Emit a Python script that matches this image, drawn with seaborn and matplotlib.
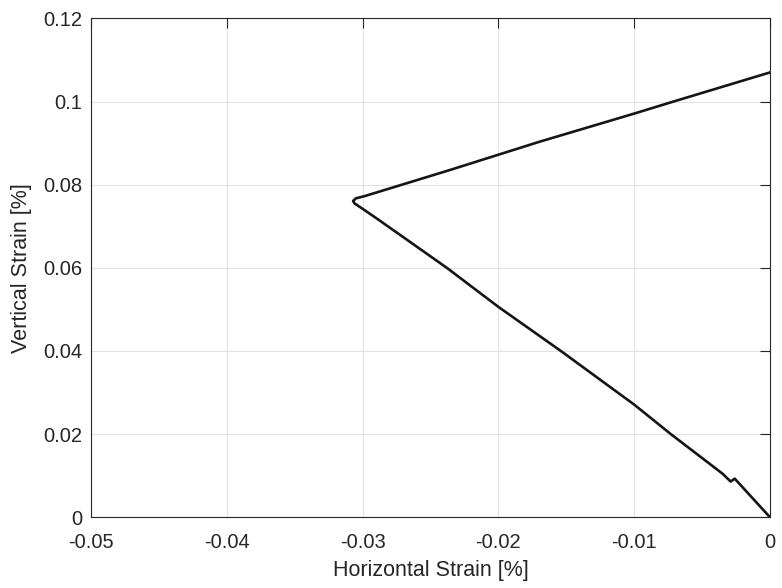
import numpy as np
import pandas as pd
import matplotlib
matplotlib.use("Agg")
import matplotlib.pyplot as plt
import seaborn as sns

# strain path (loading branch, then unloading branch)
horizontal_strain = [0.0, -0.0026, -0.0029, -0.0035, -0.0073, -0.0100,
                     -0.0154, -0.0200, -0.0238, -0.0288, -0.0300, -0.0306,
                     -0.0307, -0.0305, -0.0298, -0.0236, -0.0170, -0.0100, -0.0071, 0.0]
vertical_strain = [0.0, 0.0093, 0.0086, 0.0105, 0.0200, 0.0271,
                   0.0400, 0.0506, 0.0600, 0.0715, 0.0742, 0.0755,
                   0.0761, 0.0767, 0.0773, 0.0835, 0.0903, 0.0971, 0.1000, 0.1070]

x_ticks = [-0.05, -0.04, -0.03, -0.02, -0.01, 0]
x_labels = ["-0.05", "-0.04", "-0.03", "-0.02", "-0.01", "0"]
y_ticks = [0, 0.02, 0.04, 0.06, 0.08, 0.1, 0.12]
y_labels = ["0", "0.02", "0.04", "0.06", "0.08", "0.1", "0.12"]

df = pd.DataFrame({"h": horizontal_strain, "v": vertical_strain,
                   "step": np.arange(len(horizontal_strain))})

sns.set_style("white")
plt.rcParams["font.family"] = ["Liberation Sans", "DejaVu Sans"]

fig = plt.figure(figsize=(7.82, 5.88), dpi=100)
ax = fig.add_axes([0.1164, 0.1202, 0.8683, 0.8486])

sns.lineplot(data=df, x="h", y="v", sort=False, estimator=None,
             color="#151515", linewidth=1.9, ax=ax)

ax.set_xlim(-0.05, 0)
ax.set_ylim(0, 0.12)
ax.set_xticks(x_ticks)
ax.set_xticklabels(x_labels)
ax.set_yticks(y_ticks)
ax.set_yticklabels(y_labels)

ax.grid(True, color="#e3e3e3", linewidth=0.8)
ax.set_axisbelow(True)
for s in ax.spines.values():
    s.set_visible(True)
    s.set_color("#262626")
    s.set_linewidth(0.8)

ax.tick_params(direction="in", length=7, width=0.8, color="#262626",
               top=True, right=True, labelsize=14.5, labelcolor="#262626")
ax.tick_params(axis="x", pad=11)
ax.tick_params(axis="y", pad=6.5)

ax.set_xlabel("Horizontal Strain [%]", fontsize=15.5, color="#262626", labelpad=6)
ax.set_ylabel("Vertical Strain [%]", fontsize=15.5, color="#262626", labelpad=8)

fig.savefig("out.png", dpi=100)
